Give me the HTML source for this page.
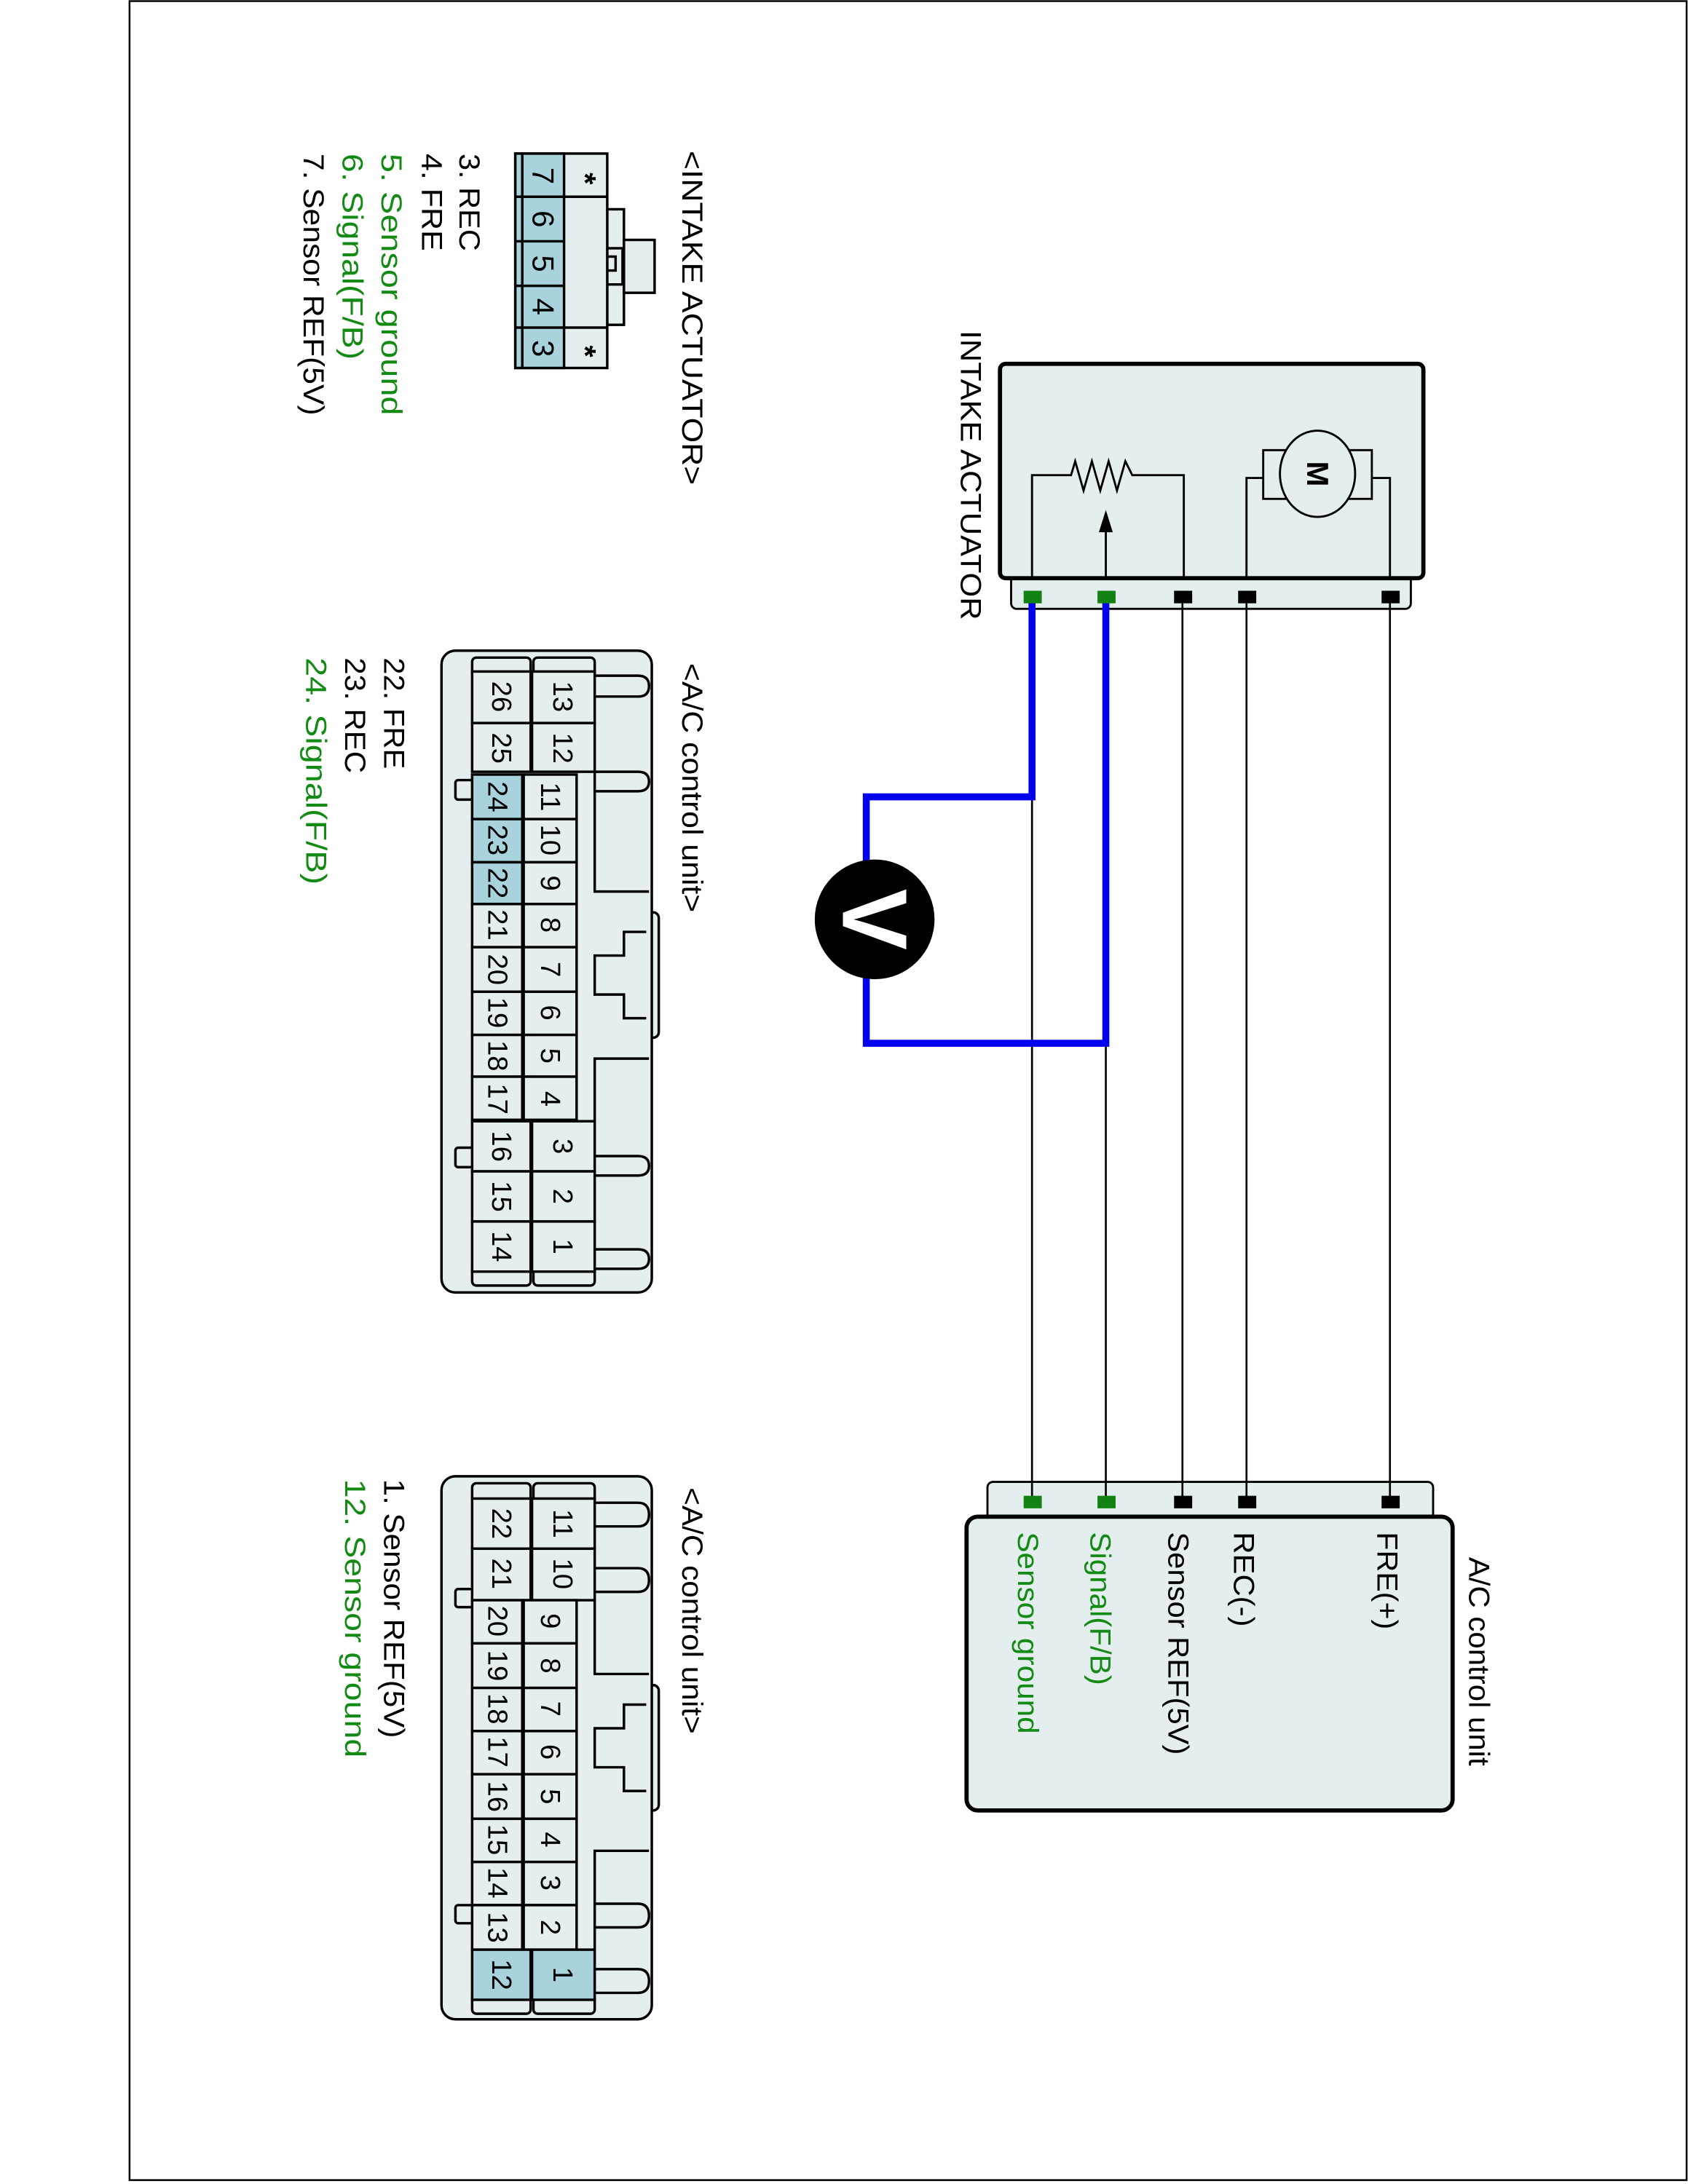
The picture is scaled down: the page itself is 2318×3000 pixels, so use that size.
<!DOCTYPE html>
<html><head><meta charset="utf-8"><style>html,body{margin:0;padding:0;background:#fff}svg{display:block}</style></head>
<body>
<svg xmlns="http://www.w3.org/2000/svg" width="2318" height="3000" viewBox="0 0 1212 1568" font-family="Liberation Sans, Arial, sans-serif">
<rect x="0" y="0" width="1212" height="1568" fill="#fff"/>
<rect x="93" y="0.5" width="1118" height="1565" fill="none" stroke="#000" stroke-width="1.3"/>

<!-- ===== Intake actuator legend ===== -->
<g dominant-baseline="central" font-size="21">
<text transform="translate(497,108) rotate(90)" textLength="240" lengthAdjust="spacingAndGlyphs">&lt;INTAKE ACTUATOR&gt;</text>
<text transform="translate(337,110) rotate(90)" textLength="70" lengthAdjust="spacingAndGlyphs">3. REC</text>
<text transform="translate(310,110) rotate(90)" textLength="70" lengthAdjust="spacingAndGlyphs">4. FRE</text>
<text transform="translate(281,110) rotate(90)" fill="#138a13" textLength="188" lengthAdjust="spacingAndGlyphs">5. Sensor ground</text>
<text transform="translate(253,110) rotate(90)" fill="#138a13" textLength="148" lengthAdjust="spacingAndGlyphs">6. Signal(F/B)</text>
<text transform="translate(225,110) rotate(90)" textLength="188" lengthAdjust="spacingAndGlyphs">7. Sensor REF(5V)</text>
</g>
<g stroke="#000" stroke-width="1.8">
<rect x="436" y="150" width="12" height="83" fill="#e4eeee"/>
<rect x="448" y="172" width="22" height="38" fill="#e4eeee"/>
<rect x="436" y="178" width="11" height="26" fill="#e4eeee"/>
<rect x="436" y="184" width="6" height="10" fill="#e4eeee"/>
<rect x="370" y="110" width="66" height="154" fill="#e4eeee"/>
<rect x="370" y="110" width="35" height="154" fill="#a8d3dc"/>
<line x1="375" y1="110" x2="375" y2="264"/>
<line x1="370" y1="141" x2="405" y2="141"/><line x1="370" y1="173" x2="405" y2="173"/>
<line x1="370" y1="205" x2="405" y2="205"/><line x1="370" y1="235" x2="405" y2="235"/>
<line x1="405" y1="141" x2="436" y2="141"/><line x1="405" y1="235" x2="436" y2="235"/>
</g>
<g dominant-baseline="central" text-anchor="middle" font-size="22">
<text transform="translate(390,126) rotate(90)">7</text>
<text transform="translate(390,157) rotate(90)">6</text>
<text transform="translate(390,189) rotate(90)">5</text>
<text transform="translate(390,220) rotate(90)">4</text>
<text transform="translate(390,250) rotate(90)">3</text>
<text transform="translate(420,128) rotate(90)" font-weight="bold">*</text>
<text transform="translate(420,252) rotate(90)" font-weight="bold">*</text>
</g>

<!-- ===== 26-pin connector ===== -->
<g dominant-baseline="central" font-size="21">
<text transform="translate(497,476) rotate(90)" textLength="179" lengthAdjust="spacingAndGlyphs">&lt;A/C control unit&gt;</text>
<text transform="translate(283,472) rotate(90)" textLength="80" lengthAdjust="spacingAndGlyphs">22. FRE</text>
<text transform="translate(255,472) rotate(90)" textLength="83" lengthAdjust="spacingAndGlyphs">23. REC</text>
<text transform="translate(227,472) rotate(90)" fill="#138a13" textLength="163" lengthAdjust="spacingAndGlyphs">24. Signal(F/B)</text>
</g>
<g stroke="#000" stroke-width="1.8" fill="#e4eeee">
<rect x="462" y="655" width="11" height="90" rx="4"/>
<rect x="317" y="467" width="151" height="461" rx="10"/>
<rect x="327" y="560" width="14" height="14" rx="2"/>
<rect x="327" y="824" width="14" height="14" rx="2"/>
<rect x="339" y="472" width="42" height="14" rx="3"/>
<rect x="383" y="472" width="44" height="14" rx="3"/>
<rect x="339" y="909" width="42" height="14" rx="3"/>
<rect x="383" y="909" width="44" height="14" rx="3"/>
<path d="M427,485 H458 Q466,485 466,492.5 Q466,500 458,500 H427" />
<path d="M427,554 H458 Q466,554 466,561 Q466,568 458,568 H427" />
<path d="M427,830 H458 Q466,830 466,837 Q466,844 458,844 H427" />
<path d="M427,897 H458 Q466,897 466,904 Q466,911 458,911 H427" />
<path d="M427,554 V640 H466" fill="none"/>
<path d="M427,805 V760 H466" fill="none"/>
<polyline points="464,669 448,669 448,686 427,686 427,714 448,714 448,731 464,731" fill="#e4eeee"/>
<rect x="339" y="482" width="42" height="37"/><rect x="339" y="519" width="42" height="35"/>
<rect x="382" y="482" width="45" height="37"/><rect x="382" y="519" width="45" height="35"/>
<rect x="339" y="556" width="36" height="32" fill="#a8d3dc"/><rect x="339" y="588" width="36" height="31" fill="#a8d3dc"/>
<rect x="339" y="619" width="36" height="30" fill="#a8d3dc"/><rect x="339" y="649" width="36" height="31"/>
<rect x="339" y="680" width="36" height="32"/><rect x="339" y="712" width="36" height="31"/>
<rect x="339" y="743" width="36" height="30"/><rect x="339" y="773" width="36" height="31"/>
<rect x="376" y="556" width="38" height="32"/><rect x="376" y="588" width="38" height="31"/>
<rect x="376" y="619" width="38" height="30"/><rect x="376" y="649" width="38" height="31"/>
<rect x="376" y="680" width="38" height="32"/><rect x="376" y="712" width="38" height="31"/>
<rect x="376" y="743" width="38" height="30"/><rect x="376" y="773" width="38" height="31"/>
<rect x="339" y="805" width="42" height="36"/><rect x="339" y="841" width="42" height="36"/><rect x="339" y="877" width="42" height="36"/>
<rect x="382" y="805" width="45" height="36"/><rect x="382" y="841" width="45" height="36"/><rect x="382" y="877" width="45" height="36"/>
</g>
<g dominant-baseline="central" text-anchor="middle" font-size="20">
<text transform="translate(360,500) rotate(90)">26</text><text transform="translate(360,537) rotate(90)">25</text>
<text transform="translate(404,500) rotate(90)">13</text><text transform="translate(404,537) rotate(90)">12</text>
<text transform="translate(357,572) rotate(90)">24</text><text transform="translate(357,603) rotate(90)">23</text>
<text transform="translate(357,634) rotate(90)">22</text><text transform="translate(357,664) rotate(90)">21</text>
<text transform="translate(357,696) rotate(90)">20</text><text transform="translate(357,727) rotate(90)">19</text>
<text transform="translate(357,758) rotate(90)">18</text><text transform="translate(357,789) rotate(90)">17</text>
<text transform="translate(395,572) rotate(90)">11</text><text transform="translate(395,603) rotate(90)">10</text>
<text transform="translate(395,634) rotate(90)">9</text><text transform="translate(395,664) rotate(90)">8</text>
<text transform="translate(395,696) rotate(90)">7</text><text transform="translate(395,727) rotate(90)">6</text>
<text transform="translate(395,758) rotate(90)">5</text><text transform="translate(395,789) rotate(90)">4</text>
<text transform="translate(360,823) rotate(90)">16</text><text transform="translate(360,859) rotate(90)">15</text><text transform="translate(360,895) rotate(90)">14</text>
<text transform="translate(404,823) rotate(90)">3</text><text transform="translate(404,859) rotate(90)">2</text><text transform="translate(404,895) rotate(90)">1</text>
</g>

<!-- ===== 22-pin connector ===== -->
<g dominant-baseline="central" font-size="21">
<text transform="translate(497,1068) rotate(90)" textLength="177" lengthAdjust="spacingAndGlyphs">&lt;A/C control unit&gt;</text>
<text transform="translate(283,1062) rotate(90)" textLength="186" lengthAdjust="spacingAndGlyphs">1. Sensor REF(5V)</text>
<text transform="translate(255,1062) rotate(90)" fill="#138a13" textLength="200" lengthAdjust="spacingAndGlyphs">12. Sensor ground</text>
</g>
<g stroke="#000" stroke-width="1.8" fill="#e4eeee">
<rect x="462" y="1210" width="11" height="90" rx="4"/>
<rect x="317" y="1060" width="151" height="390" rx="10"/>
<rect x="327" y="1141" width="14" height="13" rx="2"/>
<rect x="327" y="1368" width="14" height="13" rx="2"/>
<rect x="339" y="1065" width="42" height="14" rx="3"/>
<rect x="383" y="1065" width="44" height="14" rx="3"/>
<rect x="339" y="1432" width="42" height="14" rx="3"/>
<rect x="383" y="1432" width="44" height="14" rx="3"/>
<path d="M427,1079 H458 Q466,1079 466,1087.5 Q466,1096 458,1096 H427"/>
<path d="M427,1126 H458 Q466,1126 466,1134.5 Q466,1143 458,1143 H427"/>
<path d="M427,1367 H458 Q466,1367 466,1375.5 Q466,1384 458,1384 H427"/>
<path d="M427,1414 H458 Q466,1414 466,1422.5 Q466,1431 458,1431 H427"/>
<path d="M427,1149 V1202 H466" fill="none"/>
<path d="M427,1400 V1329 H466" fill="none"/>
<polyline points="464,1224 448,1224 448,1241 427,1241 427,1269 448,1269 448,1286 464,1286"/>
<rect x="339" y="1076" width="42" height="36"/><rect x="339" y="1112" width="42" height="37"/>
<rect x="382" y="1076" width="45" height="36"/><rect x="382" y="1112" width="45" height="37"/>
<rect x="339" y="1149" width="36" height="31"/><rect x="339" y="1180" width="36" height="32"/>
<rect x="339" y="1212" width="36" height="31"/><rect x="339" y="1243" width="36" height="31"/>
<rect x="339" y="1274" width="36" height="32"/><rect x="339" y="1306" width="36" height="31"/>
<rect x="339" y="1337" width="36" height="31"/><rect x="339" y="1368" width="36" height="32"/>
<rect x="376" y="1149" width="38" height="31"/><rect x="376" y="1180" width="38" height="32"/>
<rect x="376" y="1212" width="38" height="31"/><rect x="376" y="1243" width="38" height="31"/>
<rect x="376" y="1274" width="38" height="32"/><rect x="376" y="1306" width="38" height="31"/>
<rect x="376" y="1337" width="38" height="31"/><rect x="376" y="1368" width="38" height="32"/>
<rect x="339" y="1400" width="42" height="36" fill="#a8d3dc"/><rect x="382" y="1400" width="45" height="36" fill="#a8d3dc"/>
</g>
<g dominant-baseline="central" text-anchor="middle" font-size="20">
<text transform="translate(360,1094) rotate(90)">22</text><text transform="translate(360,1130) rotate(90)">21</text>
<text transform="translate(404,1094) rotate(90)">11</text><text transform="translate(404,1130) rotate(90)">10</text>
<text transform="translate(357,1164) rotate(90)">20</text><text transform="translate(357,1196) rotate(90)">19</text>
<text transform="translate(357,1227) rotate(90)">18</text><text transform="translate(357,1258) rotate(90)">17</text>
<text transform="translate(357,1290) rotate(90)">16</text><text transform="translate(357,1321) rotate(90)">15</text>
<text transform="translate(357,1352) rotate(90)">14</text><text transform="translate(357,1384) rotate(90)">13</text>
<text transform="translate(395,1164) rotate(90)">9</text><text transform="translate(395,1196) rotate(90)">8</text>
<text transform="translate(395,1227) rotate(90)">7</text><text transform="translate(395,1258) rotate(90)">6</text>
<text transform="translate(395,1290) rotate(90)">5</text><text transform="translate(395,1321) rotate(90)">4</text>
<text transform="translate(395,1352) rotate(90)">3</text><text transform="translate(395,1384) rotate(90)">2</text>
<text transform="translate(360,1418) rotate(90)">12</text><text transform="translate(404,1418) rotate(90)">1</text>
</g>

<!-- ===== Intake actuator schematic ===== -->
<text transform="translate(697,237) rotate(90)" dominant-baseline="central" font-size="21" textLength="208" lengthAdjust="spacingAndGlyphs">INTAKE ACTUATOR</text>
<rect x="726" y="410" width="287" height="27" rx="4" fill="#e4eeee" stroke="#000" stroke-width="1.5"/>
<rect x="718" y="261" width="304" height="154" rx="4" fill="#e4eeee" stroke="#000" stroke-width="3"/>
<g fill="none" stroke="#000" stroke-width="1.5">
<polyline points="741,415 741,341 769,341 772,331 778,352 784,331 790,352 796,331 802,352 808,331 813,341 850,341 850,415"/>
<line x1="794" y1="415" x2="794" y2="380"/>
<rect x="907" y="323" width="78" height="35"/>
<polyline points="895,415 895,343 907,343"/>
<polyline points="998,415 998,343 985,343"/>
</g>
<polygon points="794,366 789,382 799,382" fill="#000"/>
<ellipse cx="946" cy="340" rx="27" ry="31" fill="#e4eeee" stroke="#000" stroke-width="1.5"/>
<text transform="translate(946,340) rotate(90)" dominant-baseline="central" text-anchor="middle" font-size="22" font-weight="bold">M</text>

<!-- ===== A/C control unit box ===== -->
<rect x="709" y="1064" width="320" height="30" rx="4" fill="#e4eeee" stroke="#000" stroke-width="1.5"/>
<rect x="694" y="1089" width="349" height="211" rx="8" fill="#e4eeee" stroke="#000" stroke-width="3"/>
<g dominant-baseline="central" font-size="21">
<text transform="translate(1062,1118) rotate(90)" textLength="150" lengthAdjust="spacingAndGlyphs">A/C control unit</text>
<text transform="translate(996,1100) rotate(90)" textLength="70" lengthAdjust="spacingAndGlyphs">FRE(+)</text>
<text transform="translate(893,1100) rotate(90)" textLength="68" lengthAdjust="spacingAndGlyphs">REC(-)</text>
<text transform="translate(846,1100) rotate(90)" textLength="160" lengthAdjust="spacingAndGlyphs">Sensor REF(5V)</text>
<text transform="translate(790,1100) rotate(90)" fill="#138a13" textLength="110" lengthAdjust="spacingAndGlyphs">Signal(F/B)</text>
<text transform="translate(738,1100) rotate(90)" fill="#138a13" textLength="145" lengthAdjust="spacingAndGlyphs">Sensor ground</text>
</g>

<!-- ===== wires ===== -->
<g stroke="#000" stroke-width="1.4">
<line x1="741" y1="432" x2="741" y2="1078"/>
<line x1="794" y1="432" x2="794" y2="1078"/>
<line x1="849" y1="432" x2="849" y2="1078"/>
<line x1="895" y1="432" x2="895" y2="1078"/>
<line x1="998" y1="432" x2="998" y2="1078"/>
</g>
<g fill="none" stroke="#0000ee" stroke-width="5">
<polyline points="741,432 741,572 622,572 622,625"/>
<polyline points="622,695 622,749 794,749 794,432"/>
</g>
<circle cx="628" cy="660" r="43" fill="#000"/>
<text transform="translate(628,660) rotate(90)" dominant-baseline="central" text-anchor="middle" font-size="66" font-weight="bold" fill="#fff">V</text>

<!-- pins -->
<g>
<rect x="735" y="424" width="13" height="9" fill="#128212"/>
<rect x="788" y="424" width="13" height="9" fill="#128212"/>
<rect x="843" y="424" width="13" height="9" fill="#000"/>
<rect x="889" y="424" width="13" height="9" fill="#000"/>
<rect x="992" y="424" width="13" height="9" fill="#000"/>
<rect x="735" y="1074" width="13" height="9" fill="#128212"/>
<rect x="788" y="1074" width="13" height="9" fill="#128212"/>
<rect x="843" y="1074" width="13" height="9" fill="#000"/>
<rect x="889" y="1074" width="13" height="9" fill="#000"/>
<rect x="992" y="1074" width="13" height="9" fill="#000"/>
</g>
</svg>
</body></html>
